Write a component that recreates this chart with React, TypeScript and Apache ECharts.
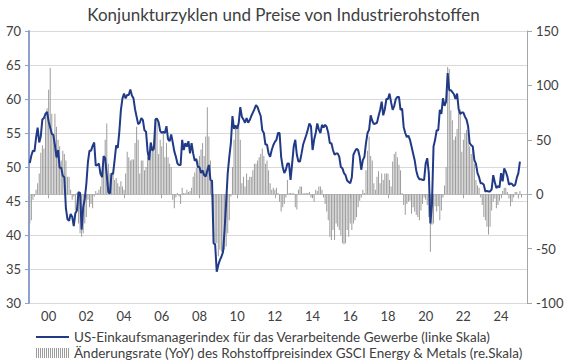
import React, { useEffect, useRef } from "react";
import * as echarts from "echarts";

const TITLE = "Konjunkturzyklen und Preise von Industrierohstoffen";
const PMI_NAME = "US-Einkaufsmanagerindex für das Verarbeitende Gewerbe (linke Skala)";
const GSCI_NAME = "Änderungsrate (YoY) des Rohstoffpreisindex GSCI Energy & Metals (re.Skala)";

// monthly categories from Jan 1999 to May 2025
const START_YEAR = 1999;
const END_YEAR = 2025;
const END_MONTH = 5;

// US manufacturing PMI, monthly, Jan 1999 – Jan 2025
const pmi: number[] = [
  50.6, 51.7, 52.4, 52.3, 54.3, 55.8, 53.6, 54.5, 57.0, 57.2, 57.8, 58.1, // 1999
  56.7, 55.8, 54.9, 54.7, 53.2, 51.4, 52.5, 49.9, 49.9, 48.7, 48.5, 43.9, // 2000
  42.3, 42.1, 43.1, 42.7, 41.3, 43.2, 43.6, 46.3, 46.2, 40.8, 44.1, 45.3, // 2001
  47.5, 50.7, 52.4, 52.4, 53.1, 53.6, 50.2, 50.3, 50.5, 49.0, 48.5, 51.6, // 2002
  51.3, 48.8, 46.3, 46.1, 49.0, 49.0, 51.0, 53.2, 52.8, 55.2, 58.4, 60.1, // 2003
  60.8, 60.1, 60.6, 60.6, 61.4, 60.5, 60.1, 58.5, 57.4, 56.3, 56.5, 57.2, // 2004
  56.9, 55.4, 55.2, 52.3, 51.0, 53.6, 52.4, 52.7, 57.0, 57.1, 56.6, 55.3, // 2005
  55.0, 55.2, 55.0, 56.0, 54.1, 53.8, 54.8, 53.6, 52.3, 51.5, 50.5, 50.3, // 2006
  50.3, 54.0, 52.5, 53.5, 53.0, 53.8, 52.0, 53.5, 52.0, 50.9, 51.2, 50.0, // 2007
  50.0, 49.1, 49.5, 48.8, 48.6, 49.5, 50.3, 48.1, 48.0, 38.8, 38.6, 34.6, // 2008
  35.6, 36.3, 36.8, 37.5, 40.7, 44.8, 49.1, 51.5, 53.5, 57.5, 55.6, 56.1, // 2009
  55.6, 56.5, 58.8, 57.4, 57.0, 56.5, 57.2, 56.5, 56.9, 57.5, 58.0, 58.5, // 2010
  59.1, 58.8, 58.1, 57.5, 55.4, 55.0, 53.3, 53.3, 52.0, 51.5, 52.5, 53.2, // 2011
  53.7, 54.0, 55.0, 55.0, 51.5, 50.0, 49.1, 49.6, 50.5, 50.5, 48.1, 50.5, // 2012
  53.0, 54.0, 51.8, 50.8, 50.8, 52.0, 53.3, 54.0, 54.7, 55.5, 56.4, 56.0, // 2013
  52.5, 54.0, 55.0, 56.4, 55.5, 55.0, 56.2, 55.8, 56.2, 55.9, 55.0, 53.5, // 2014
  53.5, 52.5, 51.8, 52.0, 52.0, 51.5, 50.0, 49.8, 49.1, 48.8, 48.0, 47.8, // 2015
  47.6, 48.5, 51.8, 52.3, 52.7, 52.5, 51.5, 49.6, 51.0, 51.5, 53.5, 55.0, // 2016
  55.5, 57.6, 56.8, 56.3, 56.4, 56.5, 57.5, 58.4, 59.6, 57.6, 58.5, 60.0, // 2017
  60.0, 60.8, 59.5, 58.4, 59.0, 60.0, 60.3, 60.3, 58.4, 58.6, 55.9, 55.0, // 2018
  54.4, 54.6, 54.0, 53.0, 52.0, 51.0, 49.5, 48.6, 48.2, 48.2, 48.1, 48.1, // 2019
  50.5, 51.3, 49.1, 41.7, 44.5, 53.0, 54.0, 55.4, 55.4, 58.4, 57.8, 60.1, // 2020
  59.0, 59.6, 63.8, 61.3, 61.3, 61.0, 60.7, 60.0, 60.8, 58.5, 57.8, 58.0, // 2021
  58.0, 57.4, 57.0, 56.0, 53.5, 53.2, 53.0, 51.0, 50.5, 49.1, 48.5, 47.6, // 2022
  47.6, 47.4, 46.4, 46.5, 46.4, 46.4, 46.7, 48.8, 47.8, 46.9, 47.2, 47.0, // 2023
  49.1, 47.9, 49.8, 49.3, 48.6, 47.4, 47.6, 47.5, 47.2, 47.4, 48.4, 49.1, // 2024
  50.8, // 2025
];

// GSCI Energy & Metals, year-on-year change in %, monthly, Jan 1999 – Feb 2025
const gsciYoY: number[] = [
  -27, -24, -5, -2, 4, 10, 19, 38, 45, 42, 71, 79, // 1999
  96, 116, 74, 53, 74, 62, 50, 44, 31, 40, 37, 31, // 2000
  16, 16, 4, -5, -2, -15, 1, -27, -36, -39, -36, -27, // 2001
  -21, -5, -12, -9, -13, -2, 3, 1, 4, 7, 16, 34, // 2002
  50, 65, 28, 19, 16, 19, 13, 15, 10, 7, 12, 7, // 2003
  4, 19, 39, 34, 31, 32, 32, 47, 62, 50, 19, 31, // 2004
  31, 22, 25, 34, 40, 44, 44, 50, 70, 68, 37, 50, // 2005
  44, 56, 34, 47, 34, 28, 25, -5, -13, -3, 1, -2, // 2006
  -9, 6, 1, 0, 4, 2, 3, 6, 16, 20, 24, 31, // 2007
  35, 41, 47, 35, 53, 80, 53, 31, -2, -39, -48, -45, // 2008
  -57, -51, -53, -54, -51, -48, -36, -24, -2, 25, 50, 62, // 2009
  59, 65, 50, 10, 16, 7, 19, 13, 16, 16, 22, 28, // 2010
  28, 31, 34, 37, 42, 35, 28, 31, 22, 10, 4, 6, // 2011
  4, 6, 1, -7, -16, -12, -9, -3, 13, 0, 1, 0, // 2012
  0, -12, -14, 4, 7, 7, 0, 0, 1, 1, 2, -3, // 2013
  -3, -7, 4, 3, 7, 7, 4, -3, -9, -16, -24, -39, // 2014
  -42, -33, -42, -27, -30, -33, -38, -45, -46, -45, -33, -39, // 2015
  -27, -33, -27, -24, -21, -12, -6, -3, 4, 1, 22, 40, // 2016
  53, 35, 31, 10, 4, 16, 21, 10, 19, 13, 19, 19, // 2017
  19, 13, 7, 30, 37, 39, 34, 27, 22, 1, -10, -19, // 2018
  -9, -7, -6, -18, -12, -16, -19, -21, -24, -15, -9, -3, // 2019
  -5, -10, -21, -53, -28, -27, -11, -16, -11, -24, -15, -3, // 2020
  8, 25, 117, 115, 77, 68, 50, 53, 60, 76, 78, 39, // 2021
  50, 56, 59, 56, 44, 37, 44, 28, 13, 8, 6, -3, // 2022
  -10, -21, -24, -30, -37, -30, -15, -7, -4, -13, -10, -6, // 2023
  -1, 3, 6, 6, 2, -4, -11, -7, -3, 2, 2, -4, // 2024
  3, -3, // 2025
];

const LEFT_MIN = 30;
const LEFT_MAX = 70;
const LEFT_STEP = 5;
const RIGHT_MIN = -100;
const RIGHT_MAX = 150;
const RIGHT_STEP = 50;

const FONT = 'Lato, "Open Sans", "DejaVu Sans", sans-serif';
const LINE_COLOR = "#203a87";
const BAR_COLOR = "#9c9c9c";
const TEXT_COLOR = "#404040";

function buildMonths(): string[] {
  const out: string[] = [];
  for (let y = START_YEAR; y <= END_YEAR; y++) {
    for (let m = 1; m <= 12; m++) {
      if (y === END_YEAR && m > END_MONTH) break;
      out.push(`${y}-${m < 10 ? "0" + m : m}`);
    }
  }
  return out;
}

function isLabelMonth(value: string): boolean {
  const [ys, ms] = value.split("-");
  return ms === "01" && Number(ys) % 2 === 0;
}

function stripeIcon(): string {
  let d = "path://";
  for (let i = 0; i < 17; i++) {
    d += `M${i * 2} 0h1v10h-1z`;
  }
  return d;
}

const LINE_ICON = "path://M0 4h33v2h-33z";

export default function App() {
  const ref = useRef<HTMLDivElement>(null);

  useEffect(() => {
    if (!ref.current) return;
    document.body.style.margin = "0";
    const chart = echarts.init(ref.current, undefined, { renderer: "svg" });
    const months = buildMonths();

    const legendBase = {
      orient: "horizontal",
      left: 36,
      itemWidth: 33,
      itemHeight: 10,
      itemGap: 4,
      padding: 0,
      textStyle: { fontFamily: FONT, fontSize: 13.5, color: TEXT_COLOR },
    };

    const option: any = {
      animation: false,
      backgroundColor: "#ffffff",
      textStyle: { fontFamily: FONT },
      title: {
        text: TITLE,
        left: "center",
        top: 1,
        textStyle: {
          fontFamily: FONT,
          fontSize: 17,
          fontWeight: "normal",
          color: TEXT_COLOR,
        },
      },
      legend: [
        { ...legendBase, top: 330, data: [{ name: PMI_NAME, icon: LINE_ICON }] },
        { ...legendBase, top: 346, data: [{ name: GSCI_NAME, icon: stripeIcon() }] },
      ],
      grid: { left: 29, right: 40, top: 31, bottom: 59, containLabel: false },
      xAxis: {
        type: "category",
        data: months,
        boundaryGap: true,
        axisLine: { show: true, lineStyle: { color: "#bfbfbf", width: 1 } },
        axisTick: {
          show: true,
          alignWithLabel: true,
          length: 4,
          interval: (_i: number, v: string) => isLabelMonth(v),
          lineStyle: { color: "#a6a6a6" },
        },
        axisLabel: {
          interval: (_i: number, v: string) => isLabelMonth(v),
          formatter: (v: string) => v.slice(2, 4),
          color: TEXT_COLOR,
          fontFamily: FONT,
          fontSize: 13,
          margin: 6,
        },
        splitLine: { show: false },
      },
      yAxis: [
        {
          type: "value",
          min: LEFT_MIN,
          max: LEFT_MAX,
          interval: LEFT_STEP,
          position: "left",
          axisLine: { show: true, lineStyle: { color: "#8ea0cc", width: 2 } },
          axisTick: { show: true, length: 4, lineStyle: { color: "#8ea0cc" } },
          axisLabel: { color: TEXT_COLOR, fontFamily: FONT, fontSize: 13, margin: 8 },
          splitLine: { show: true, lineStyle: { color: "#d9d9d9", width: 1 } },
        },
        {
          type: "value",
          min: RIGHT_MIN,
          max: RIGHT_MAX,
          interval: RIGHT_STEP,
          position: "right",
          axisLine: { show: true, lineStyle: { color: "#a6a6a6", width: 1 } },
          axisTick: { show: true, length: 5, lineStyle: { color: "#a6a6a6" } },
          axisLabel: { color: TEXT_COLOR, fontFamily: FONT, fontSize: 13, margin: 9 },
          splitLine: { show: false },
        },
      ],
      series: [
        {
          name: GSCI_NAME,
          type: "bar",
          yAxisIndex: 1,
          data: gsciYoY,
          barWidth: 1,
          barMinHeight: 1,
          itemStyle: { color: BAR_COLOR },
          z: 1,
        },
        {
          name: PMI_NAME,
          type: "line",
          yAxisIndex: 0,
          data: pmi,
          symbol: "none",
          showSymbol: false,
          lineStyle: { color: LINE_COLOR, width: 2 },
          itemStyle: { color: LINE_COLOR },
          z: 3,
        },
      ],
    };

    chart.setOption(option);
    return () => chart.dispose();
  }, []);

  return (
    <div
      ref={ref}
      style={{ position: "absolute", left: 0, top: 0, width: 567, height: 362 }}
    />
  );
}
